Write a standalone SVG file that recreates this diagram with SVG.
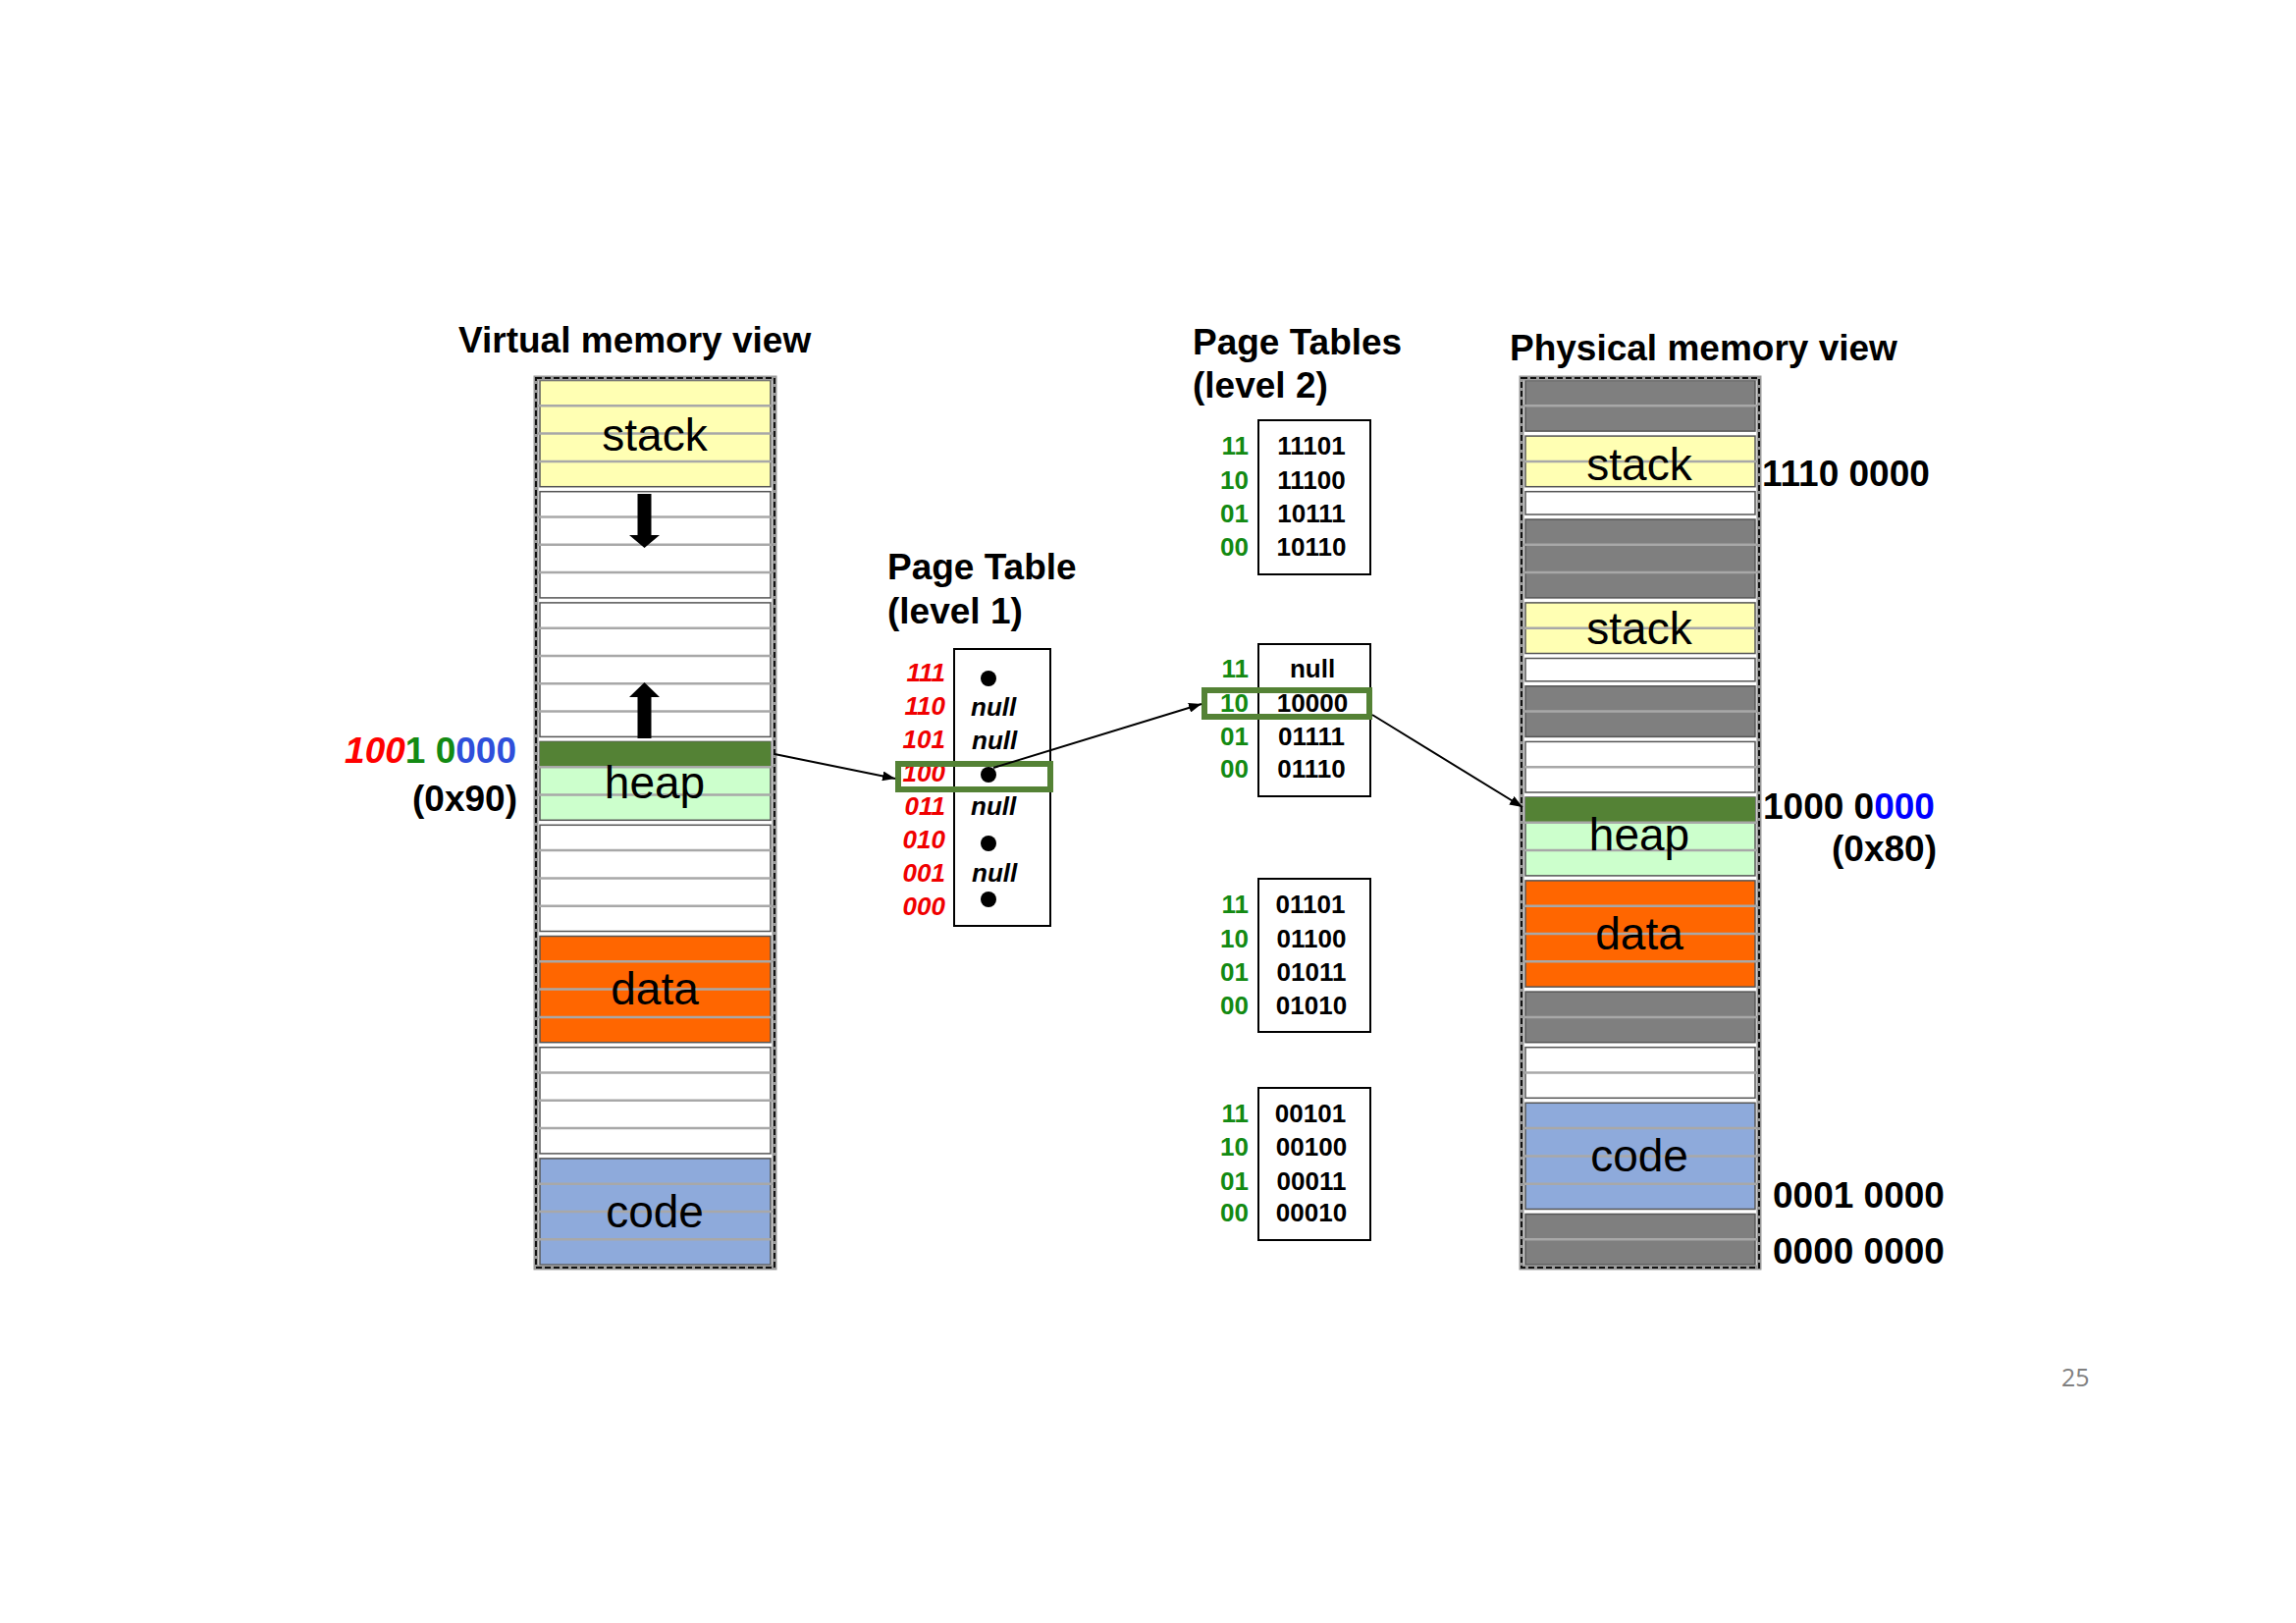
<svg xmlns="http://www.w3.org/2000/svg" width="2339" height="1653" viewBox="0 0 2339 1653">
<defs>
<style>
text{font-family:"Liberation Sans",Arial,Helvetica,sans-serif}
.title{font-size:37px;font-weight:bold;fill:#000}
.seg{font-size:46px;fill:#000;text-anchor:middle}
.addr{font-size:37px;font-weight:bold;fill:#000}
.l1lab{font-size:26px;font-weight:bold;font-style:italic;fill:#f00000;text-anchor:end}
.null{font-size:26px;font-weight:bold;font-style:italic;fill:#000}
.l2lab{font-size:26px;font-weight:bold;fill:#138a13;text-anchor:end}
.l2val{font-size:26px;font-weight:bold;fill:#000;text-anchor:middle}
.box{fill:#fff;stroke:#000;stroke-width:2}
.colb{fill:none;stroke:#9a9a9a;stroke-width:5}
.cold{fill:none;stroke:#111;stroke-width:2;stroke-dasharray:6 3}
.blk{stroke:#555;stroke-width:1.5}
.row{stroke:#a8a8a8;stroke-width:2.5}
.hl{fill:none;stroke:#548235;stroke-width:6}
.conn{stroke:#000;stroke-width:2;fill:none;marker-end:url(#ah)}
.stk{fill:#ffffb3}.wht{fill:#fff}.hp{fill:#ccffcc}.dat{fill:#ff6600}.cod{fill:#8eaadb}.gry{fill:#7f7f7f}.dg{fill:#548235}
</style>
<marker id="ah" markerUnits="userSpaceOnUse" markerWidth="13" markerHeight="10" refX="13" refY="5" orient="auto">
<path d="M0,0 L13,5 L0,10 z" fill="#000"/>
</marker>
</defs>
<rect width="2339" height="1653" fill="#fff"/>

<g id="titles">
<text class="title" x="467" y="359">Virtual memory view</text>
<text class="title" x="904" y="590">Page Table</text>
<text class="title" x="904" y="635">(level 1)</text>
<text class="title" x="1215" y="361">Page Tables</text>
<text class="title" x="1215" y="405">(level 2)</text>
<text class="title" x="1538" y="367">Physical memory view</text>
</g>

<g id="virtual-memory">
<rect class="blk stk" x="550" y="387.5" width="235" height="108.2"/>
<rect class="blk wht" x="550" y="500.7" width="235" height="108.2"/>
<rect class="blk wht" x="550" y="613.9" width="235" height="136.5"/>
<rect class="blk hp" x="550" y="755.4" width="235" height="79.9"/>
<rect class="dg" x="550" y="755.4" width="235" height="25.8"/>
<rect class="blk wht" x="550" y="840.3" width="235" height="108.2"/>
<rect class="blk dat" x="550" y="953.5" width="235" height="108.2"/>
<rect class="blk wht" x="550" y="1066.7" width="235" height="108.2"/>
<rect class="blk cod" x="550" y="1179.9" width="235" height="108.2"/>
<g class="row">
<line x1="546" y1="413.3" x2="789" y2="413.3"/><line x1="546" y1="441.6" x2="789" y2="441.6"/><line x1="546" y1="469.9" x2="789" y2="469.9"/>
<line x1="546" y1="526.5" x2="789" y2="526.5"/><line x1="546" y1="554.8" x2="789" y2="554.8"/><line x1="546" y1="583.1" x2="789" y2="583.1"/>
<line x1="546" y1="639.7" x2="789" y2="639.7"/><line x1="546" y1="668" x2="789" y2="668"/><line x1="546" y1="696.3" x2="789" y2="696.3"/><line x1="546" y1="724.6" x2="789" y2="724.6"/>
<line x1="546" y1="781.2" x2="789" y2="781.2"/><line x1="546" y1="809.5" x2="789" y2="809.5"/>
<line x1="546" y1="866.1" x2="789" y2="866.1"/><line x1="546" y1="894.4" x2="789" y2="894.4"/><line x1="546" y1="922.7" x2="789" y2="922.7"/>
<line x1="546" y1="979.3" x2="789" y2="979.3"/><line x1="546" y1="1007.6" x2="789" y2="1007.6"/><line x1="546" y1="1035.9" x2="789" y2="1035.9"/>
<line x1="546" y1="1092.5" x2="789" y2="1092.5"/><line x1="546" y1="1120.8" x2="789" y2="1120.8"/><line x1="546" y1="1149.1" x2="789" y2="1149.1"/>
<line x1="546" y1="1205.7" x2="789" y2="1205.7"/><line x1="546" y1="1234" x2="789" y2="1234"/><line x1="546" y1="1262.3" x2="789" y2="1262.3"/>
</g>
<rect class="colb" x="546" y="385" width="243" height="906"/>
<rect class="cold" x="546" y="385" width="243" height="906"/>
<text class="seg" x="667" y="459">stack</text>
<text class="seg" x="667" y="813">heap</text>
<text class="seg" x="667" y="1023">data</text>
<text class="seg" x="667" y="1250">code</text>
<polygon points="649.5,503 663.5,503 663.5,545 672,545 656.5,558 641,545 649.5,545" fill="#000"/>
<polygon points="656.5,695 672,710 663.5,710 663.5,752 649.5,752 649.5,710 641,710" fill="#000"/>
<text class="addr" x="526" y="777" text-anchor="end"><tspan fill="#ff0000" font-style="italic">100</tspan><tspan fill="#138a13">1 0</tspan><tspan fill="#2f4fdb">000</tspan></text>
<text class="addr" x="527" y="826" text-anchor="end">(0x90)</text>
</g>

<g id="page-table-l1">
<rect class="box" x="972" y="661" width="98" height="282"/>
<text class="l1lab" x="963" y="694">111</text>
<text class="l1lab" x="963" y="728">110</text>
<text class="l1lab" x="963" y="762">101</text>
<text class="l1lab" x="963" y="796">100</text>
<text class="l1lab" x="963" y="830">011</text>
<text class="l1lab" x="963" y="864">010</text>
<text class="l1lab" x="963" y="898">001</text>
<text class="l1lab" x="963" y="932">000</text>
<circle cx="1007" cy="691" r="8"/>
<text class="null" x="989" y="729">null</text>
<text class="null" x="990" y="763">null</text>
<circle cx="1007" cy="789" r="8"/>
<text class="null" x="989" y="830">null</text>
<circle cx="1007" cy="859" r="8"/>
<text class="null" x="990" y="898">null</text>
<circle cx="1007" cy="916" r="8"/>
<rect class="hl" x="915" y="778" width="155" height="26"/>
</g>

<g id="page-table-l2-a">
<rect class="box" x="1282" y="428" width="114" height="157"/>
<text class="l2lab" x="1272" y="463">11</text><text class="l2val" x="1336" y="463">11101</text>
<text class="l2lab" x="1272" y="498">10</text><text class="l2val" x="1336" y="498">11100</text>
<text class="l2lab" x="1272" y="532">01</text><text class="l2val" x="1336" y="532">10111</text>
<text class="l2lab" x="1272" y="566">00</text><text class="l2val" x="1336" y="566">10110</text>
</g>

<g id="page-table-l2-b">
<rect class="box" x="1282" y="656" width="114" height="155"/>
<text class="l2lab" x="1272" y="690">11</text><text class="l2val" x="1337" y="690">null</text>
<text class="l2lab" x="1272" y="725">10</text><text class="l2val" x="1337" y="725">10000</text>
<text class="l2lab" x="1272" y="759">01</text><text class="l2val" x="1336" y="759">01111</text>
<text class="l2lab" x="1272" y="792">00</text><text class="l2val" x="1336" y="792">01110</text>
<rect class="hl" x="1227" y="703" width="168" height="27"/>
</g>

<g id="page-table-l2-c">
<rect class="box" x="1282" y="895" width="114" height="156"/>
<text class="l2lab" x="1272" y="930">11</text><text class="l2val" x="1335" y="930">01101</text>
<text class="l2lab" x="1272" y="965">10</text><text class="l2val" x="1336" y="965">01100</text>
<text class="l2lab" x="1272" y="999">01</text><text class="l2val" x="1336" y="999">01011</text>
<text class="l2lab" x="1272" y="1033">00</text><text class="l2val" x="1336" y="1033">01010</text>
</g>

<g id="page-table-l2-d">
<rect class="box" x="1282" y="1108" width="114" height="155"/>
<text class="l2lab" x="1272" y="1143">11</text><text class="l2val" x="1335" y="1143">00101</text>
<text class="l2lab" x="1272" y="1177">10</text><text class="l2val" x="1336" y="1177">00100</text>
<text class="l2lab" x="1272" y="1212">01</text><text class="l2val" x="1336" y="1212">00011</text>
<text class="l2lab" x="1272" y="1244">00</text><text class="l2val" x="1336" y="1244">00010</text>
</g>

<g id="physical-memory">
<rect class="blk gry" x="1554" y="387.5" width="234" height="51.6"/>
<rect class="blk stk" x="1554" y="444.1" width="234" height="51.6"/>
<rect class="blk wht" x="1554" y="500.7" width="234" height="23.3"/>
<rect class="blk gry" x="1554" y="529" width="234" height="79.9"/>
<rect class="blk stk" x="1554" y="613.9" width="234" height="51.6"/>
<rect class="blk wht" x="1554" y="670.5" width="234" height="23.3"/>
<rect class="blk gry" x="1554" y="698.8" width="234" height="51.6"/>
<rect class="blk wht" x="1554" y="755.4" width="234" height="51.6"/>
<rect class="blk hp" x="1554" y="812" width="234" height="79.9"/>
<rect class="dg" x="1554" y="812" width="234" height="25.8"/>
<rect class="blk dat" x="1554" y="896.9" width="234" height="108.2"/>
<rect class="blk gry" x="1554" y="1010.1" width="234" height="51.6"/>
<rect class="blk wht" x="1554" y="1066.7" width="234" height="51.6"/>
<rect class="blk cod" x="1554" y="1123.3" width="234" height="108.2"/>
<rect class="blk gry" x="1554" y="1236.5" width="234" height="51.6"/>
<g class="row">
<line x1="1550" y1="413.3" x2="1792" y2="413.3"/>
<line x1="1550" y1="469.9" x2="1792" y2="469.9"/>
<line x1="1550" y1="554.8" x2="1792" y2="554.8"/><line x1="1550" y1="583.1" x2="1792" y2="583.1"/>
<line x1="1550" y1="639.7" x2="1792" y2="639.7"/>
<line x1="1550" y1="724.6" x2="1792" y2="724.6"/>
<line x1="1550" y1="781.2" x2="1792" y2="781.2"/>
<line x1="1550" y1="837.8" x2="1792" y2="837.8"/><line x1="1550" y1="866.1" x2="1792" y2="866.1"/>
<line x1="1550" y1="922.7" x2="1792" y2="922.7"/><line x1="1550" y1="951" x2="1792" y2="951"/><line x1="1550" y1="979.3" x2="1792" y2="979.3"/>
<line x1="1550" y1="1035.9" x2="1792" y2="1035.9"/>
<line x1="1550" y1="1092.5" x2="1792" y2="1092.5"/>
<line x1="1550" y1="1149.1" x2="1792" y2="1149.1"/><line x1="1550" y1="1177.4" x2="1792" y2="1177.4"/><line x1="1550" y1="1205.7" x2="1792" y2="1205.7"/>
<line x1="1550" y1="1262.3" x2="1792" y2="1262.3"/>
</g>
<rect class="colb" x="1550" y="385" width="242" height="906"/>
<rect class="cold" x="1550" y="385" width="242" height="906"/>
<text class="seg" x="1670" y="489">stack</text>
<text class="seg" x="1670" y="656">stack</text>
<text class="seg" x="1670" y="866">heap</text>
<text class="seg" x="1670" y="967">data</text>
<text class="seg" x="1670" y="1193">code</text>
<text class="addr" x="1795" y="495">1110 0000</text>
<text class="addr" x="1796" y="834">1000 0<tspan fill="#0000ff">000</tspan></text>
<text class="addr" x="1973" y="877" text-anchor="end">(0x80)</text>
<text class="addr" x="1806" y="1230">0001 0000</text>
<text class="addr" x="1806" y="1287">0000 0000</text>
</g>

<g id="connectors">
<line class="conn" x1="789" y1="768" x2="912" y2="793"/>
<line class="conn" x1="1012" y1="782" x2="1224" y2="717"/>
<line class="conn" x1="1398" y1="728" x2="1551" y2="822"/>
</g>

<text x="2100" y="1412" font-size="25" fill="#808080" style="font-family:'Open Sans','Liberation Sans',sans-serif">25</text>
</svg>
